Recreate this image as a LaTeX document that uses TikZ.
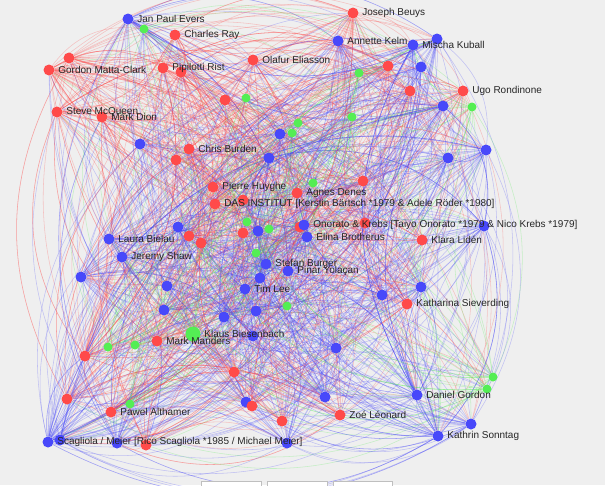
\documentclass[tikz,border=0pt]{standalone}
\usepackage{fontspec}
\setmainfont{Liberation Sans}
\usetikzlibrary{positioning}
\definecolor{canvas}{RGB}{239,239,239}
\definecolor{nred}{RGB}{255,74,74}
\definecolor{nblue}{RGB}{72,72,250}
\definecolor{ngreen}{RGB}{84,238,84}
\pgfdeclarelayer{back}
\pgfdeclarelayer{edges}
\pgfsetlayers{back,edges,main}
\begin{document}
\begin{tikzpicture}[x=1pt,y=-1pt,
  dot/.style={circle,inner sep=0pt,draw=none},
  link/.style={line width=0.55pt,draw opacity=0.28},
  lbl/.style={inner sep=0pt,font=\fontsize{10}{12}\selectfont,text=black!85},
  uibox/.style={draw=black!25,fill=white,line width=0.6pt}]
  \begin{pgfonlayer}{back}
    \fill[canvas] (0,0) rectangle (605,485);
  \end{pgfonlayer}
  \useasboundingbox (0,0) rectangle (605,485);
  \foreach \x/\y/\c/\d/\s [count=\i] in {
    128/19/nblue/18/11, 144/29/ngreen/8/9, 175/35/nred/12/11, 69/58/nred/14/11,
    49/70/nred/22/11, 163/68/nred/14/11, 181/72/nred/12/11, 253/60/nred/14/11,
    225/100/nred/10/11, 246/98/ngreen/6/9, 57/112/nred/18/11, 102/117/nred/12/11,
    140/144/nblue/10/11, 189/149/nred/14/11, 280/134/nblue/10/11, 292/133/ngreen/6/9,
    298/123/ngreen/6/9, 269/158/nblue/10/11, 176/160/nred/10/11, 353/13/nred/18/11,
    338/41/nblue/14/11, 413/45/nblue/14/11, 437/39/nblue/14/11, 388/66/nred/12/11,
    421/67/nblue/12/11, 359/73/ngreen/6/9, 410/91/nred/12/11, 463/91/nred/14/11,
    443/106/nblue/14/11, 472/107/ngreen/10/9, 352/117/ngreen/6/9, 486/150/nblue/16/11,
    448/158/nblue/14/11, 213/187/nred/12/11, 215/204/nred/12/11, 243/200/nred/10/11,
    313/183/ngreen/6/9, 363/181/nred/10/11, 297/193/nred/10/11, 247/222/ngreen/6/9,
    243/233/nred/10/11, 258/231/nblue/10/11, 269/229/ngreen/6/9, 178/227/nblue/10/11,
    189/236/nred/10/11, 201/243/nred/10/11, 300/227/nred/8/11, 304/225/nblue/12/11,
    307/237/nblue/12/11, 365/223/nred/8/11, 422/240/nred/10/11, 484/226/nblue/16/11,
    109/239/nblue/14/11, 122/257/nblue/12/11, 81/277/nblue/16/11, 256/253/ngreen/6/9,
    266/264/nblue/12/11, 288/271/nblue/12/11, 260/278/nblue/10/11, 245/289/nblue/12/11,
    167/286/nblue/12/11, 164/310/nblue/12/11, 224/317/nblue/12/11, 256/311/nblue/12/11,
    287/306/ngreen/6/9, 421/287/nblue/12/11, 382/295/nblue/12/11, 407/304/nred/10/11,
    193/334/ngreen/14/15, 253/336/nblue/10/11, 157/341/nred/10/11, 108/347/ngreen/8/9,
    135/345/ngreen/8/9, 85/356/nred/12/11, 336/348/nblue/12/11, 234/372/nred/10/11,
    67/399/nred/16/11, 130/404/ngreen/8/9, 111/412/nred/12/11, 325/397/nblue/12/11,
    246/402/nblue/12/11, 252/406/nred/10/11, 340/415/nred/12/11, 282/421/nred/10/11,
    48/442/nblue/22/11, 60/440/nblue/10/11, 117/443/nblue/14/11, 146/445/nred/10/11,
    287/443/nblue/14/11, 417/395/nblue/18/11, 493/377/ngreen/8/9, 487/389/ngreen/8/9,
    471/424/nblue/16/11, 438/436/nblue/18/11}{
    \node[dot,fill=\c,minimum size=\s pt] (n\i) at (\x,\y) {};
    \expandafter\xdef\csname nc\i\endcsname{\c}
    \expandafter\xdef\csname nd\i\endcsname{\d}
  }
  \pgfmathsetseed{23}
  \begin{pgfonlayer}{edges}
    \foreach \i in {1,...,94}{
      \edef\cc{\csname nc\i\endcsname}
      \pgfmathtruncatemacro\dd{1.6*\csname nd\i\endcsname}
      \foreach \k in {1,...,\dd}{
        \pgfmathrandominteger{\j}{1}{94}
        \edef\cj{\csname nc\j\endcsname}
        \ifx\cj\cc\else\pgfmathrandominteger{\j}{1}{94}\fi
        \ifnum\j=\i\else
          \draw[link,draw=\cc] (n\i) to[bend left=30] (n\j);
        \fi
      }
    }
  \end{pgfonlayer}
  \foreach \i/\t in {1/Jan Paul Evers, 3/Charles Ray, 5/Gordon Matta-Clark,
    6/Pipilotti Rist, 8/Olafur Eliasson, 11/Steve McQueen, 12/Mark Dion,
    14/Chris Burden, 20/Joseph Beuys, 21/Annette Kelm, 22/Mischa Kuball,
    28/Ugo Rondinone, 34/Pierre Huyghe,
    35/{DAS INSTITUT [Kerstin Bärtsch *1979 \& Adele Röder *1980]},
    39/Agnes Denes,
    48/{Onorato \& Krebs [Taiyo Onorato *1979 \& Nico Krebs *1979]},
    49/Elina Brotherus, 51/Klara Lidén, 53/Laura Bielau, 54/Jeremy Shaw,
    57/Stefan Burger, 58/Pinar Yolaçan, 60/Tim Lee, 68/Katharina Sieverding,
    69/Klaus Biesenbach, 71/Mark Manders, 79/Pawel Althamer, 83/Zoé Léonard,
    85/{Scagliola / Meier [Rico Scagliola *1985 / Michael Meier]},
    90/Daniel Gordon, 94/Kathrin Sonntag}
    \node[lbl,right=3.5pt of n\i] (t\i) {\t};
  \draw[uibox] (201,481) rectangle (261,492);
  \draw[uibox] (267,481) rectangle (327,492);
  \draw[uibox] (333,481) rectangle (392,492);
\end{tikzpicture}
\end{document}
